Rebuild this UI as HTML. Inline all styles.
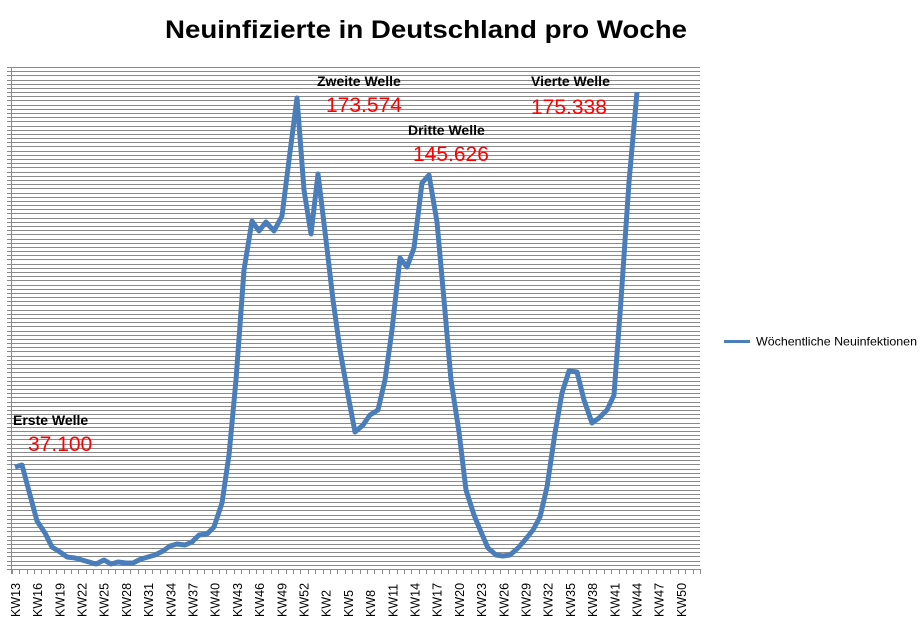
<!DOCTYPE html>
<html><head><meta charset="utf-8"><style>
body{margin:0;background:#fff;width:922px;height:631px;overflow:hidden}
svg{display:block;font-family:"Liberation Sans",Arial,sans-serif}
</style></head><body>
<svg width="922" height="631" viewBox="0 0 922 631" xmlns="http://www.w3.org/2000/svg">
<text x="426" y="38" text-anchor="middle" font-size="25" font-weight="bold" textLength="522" lengthAdjust="spacingAndGlyphs">Neuinfizierte in Deutschland pro Woche</text>
<g id="grid" stroke="#8a8a8a" stroke-width="1"></g>
<line x1="11.5" y1="67" x2="11.5" y2="574" stroke="#8a8a8a"/>
<line x1="7" y1="569.5" x2="700" y2="569.5" stroke="#8a8a8a"/>
<g id="ticks" stroke="#8a8a8a"></g>
<g id="labels" font-size="12.5"></g>
<polyline fill="none" stroke="#4a7ebb" stroke-width="5" stroke-linejoin="round" points="15,467 22,465 30,495 37,521 45,533 52,547 60,552 67,557 75,558 82,560 89,562 96,564 104,560 111,564 118,562 126,563 133,563 141,559 148,557 155,555 163,551 170,546 177,544 185,545 192,542 199,535 207,534 214,527 222,503 229,455 236,380 244,270 252,221 259,231 266,222 274,231 282,216 289,160 297,98 304,190 311,234 318,174 326,240 333,300 340,350 348,395 355,432 363,425 370,415 378,410 385,380 392,330 400,258 407,267 414,248 422,183 429,175 437,222 444,300 451,380 459,432 466,490 474,515 481,532 488,548 496,555 503,556 510,555 518,548 525,540 533,530 540,517 547,487 555,433 562,393 569,371 577,372 584,400 592,423 599,418 607,410 614,395 621,300 629,182 637,92"/>
<g font-size="14" font-weight="bold">
<text x="13" y="425">Erste Welle</text>
<text x="317" y="86">Zweite Welle</text>
<text x="408" y="135">Dritte Welle</text>
<text x="531" y="86">Vierte Welle</text>
</g>
<g font-size="21" fill="#ff0000">
<text x="28" y="451">37.100</text>
<text x="326" y="112">173.574</text>
<text x="413" y="161">145.626</text>
<text x="531" y="114">175.338</text>
</g>
<line x1="724" y1="341.5" x2="750" y2="341.5" stroke="#4a7ebb" stroke-width="3"/>
<text x="756" y="345.5" font-size="12" textLength="161" lengthAdjust="spacingAndGlyphs">Wöchentliche Neuinfektionen</text>
</svg>
<script>
var ns="http://www.w3.org/2000/svg";
var g=document.getElementById("grid");
for(var i=0;i<120;i++){var y=Math.round(67+i*502/120)+0.5;var l=document.createElementNS(ns,"line");l.setAttribute("x1",7);l.setAttribute("x2",700);l.setAttribute("y1",y);l.setAttribute("y2",y);g.appendChild(l);}
var t=document.getElementById("ticks");
for(var i=0;i<=93;i++){var x=Math.round(11.7+i*7.4)+0.5;var l=document.createElementNS(ns,"line");l.setAttribute("x1",x);l.setAttribute("x2",x);l.setAttribute("y1",569);l.setAttribute("y2",574);t.appendChild(l);}
var lb=document.getElementById("labels");
for(var i=0;i<=90;i+=3){var kw=i<=40?13+i:i-40;var x=15.4+i*7.4+4.5;var tx=document.createElementNS(ns,"text");tx.setAttribute("transform","translate("+x+",617) rotate(-90)");tx.textContent="KW"+kw;lb.appendChild(tx);}
</script>
</body></html>
